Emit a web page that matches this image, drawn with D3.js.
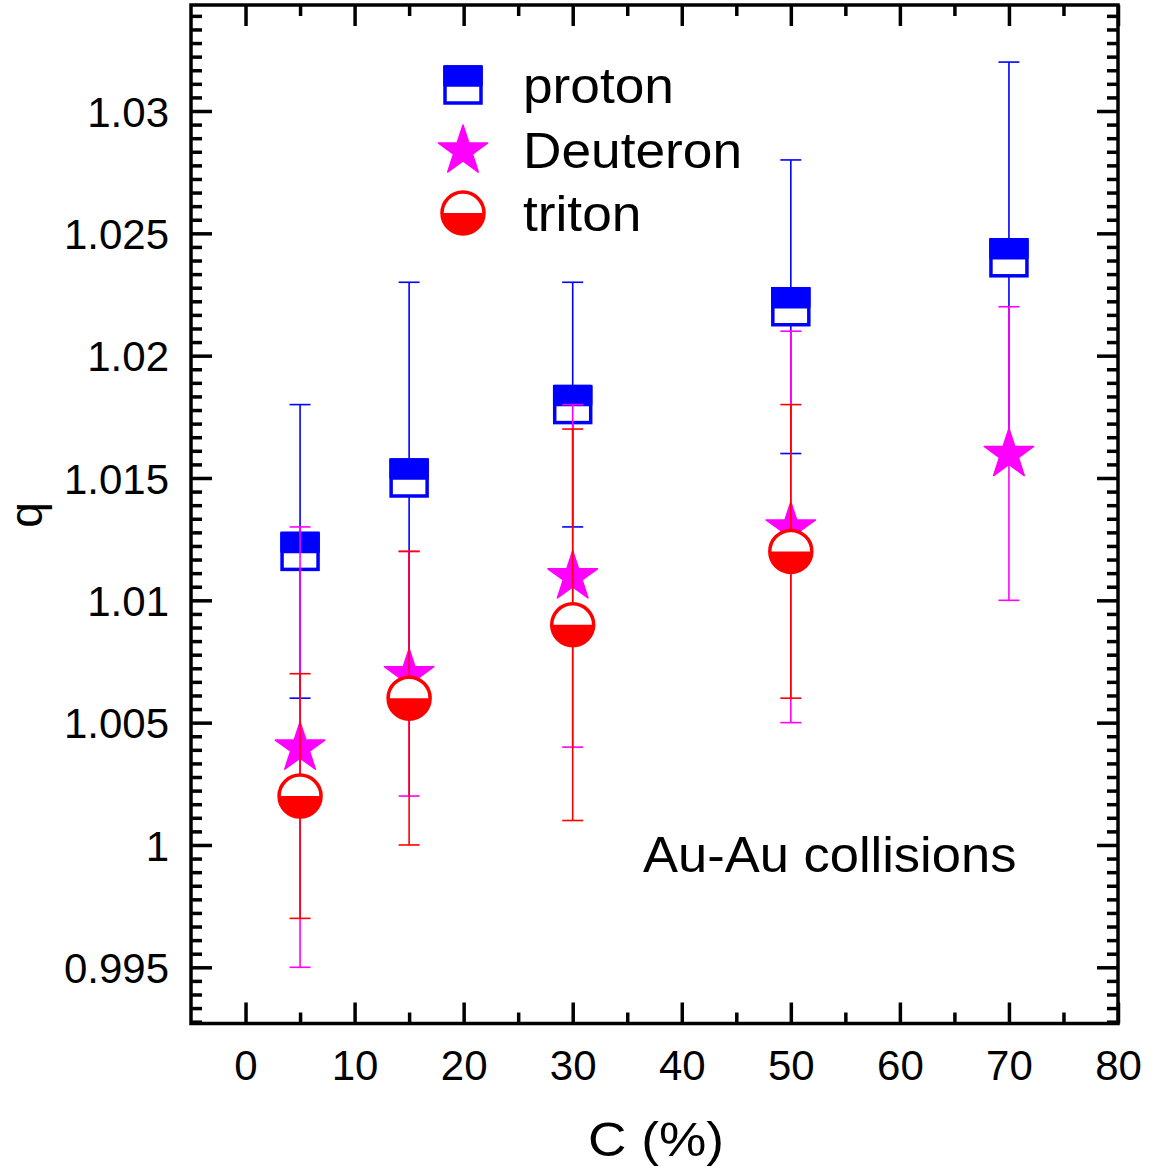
<!DOCTYPE html>
<html>
<head>
<meta charset="utf-8">
<script src="https://cdn.jsdelivr.net/npm/d3@7"></script>
<style>
  html, body { margin: 0; padding: 0; background: #fff; }
  svg { display: block; }
  text { font-family: "Liberation Sans", Arial, sans-serif; fill: #000; }
</style>
</head>
<body>
<svg id="chart" width="1155" height="1171"></svg>
<script>
// ---- data ----
const centrality = [5, 15, 30, 50, 70];
const protonQ   = [1.012, 1.015, 1.018, 1.022, 1.024];
const protonErr = [0.006, 0.008, 0.005, 0.006, 0.008];
const deutC     = [5, 15, 30, 50, 70];
const deutQ     = [1.004, 1.007, 1.011, 1.013, 1.016];
const deutErr   = [0.009, 0.005, 0.007, 0.008, 0.006];
const tritC     = [5, 15, 30, 50];
const tritQ     = [1.002, 1.006, 1.009, 1.012];
const tritErr   = [0.005, 0.006, 0.008, 0.006];
const xTicks = [0, 10, 20, 30, 40, 50, 60, 70, 80];
const yTicks = [0.995, 1.0, 1.005, 1.01, 1.015, 1.02, 1.025, 1.03];
const yTickLabels = ["0.995", "1", "1.005", "1.01", "1.015", "1.02", "1.025", "1.03"];
const seriesNames = ["proton", "Deuteron", "triton"];

const svg = d3.select("#chart");
const L = 191, R = 1118, T = 5, B = 1023.5;
const x = d3.scaleLinear().domain([-5, 80]).range([L, R]);
const y = d3.scaleLinear().domain([0.992703, 1.034333]).range([B, T]);

const BLUE = "#0000ff", MAG = "#ff00ff", RED = "#ff0000";

// minor tick values
const xMinor = d3.range(5, 80, 10);
const yStep = 0.005 / 9;
const yMinor = d3.range(Math.ceil(0.992703 / yStep + 1e-6), Math.floor(1.034333 / yStep - 1e-6) + 1)
  .map(i => i * yStep)
  .filter(v => !yTicks.some(t => Math.abs(t - v) < 1e-7));

const axG = svg.append("g");
function styleAxis(g) {
  g.select(".domain").remove();
  g.selectAll(".tick line").attr("stroke", "#000").attr("stroke-width", 3.5);
}
// bottom
axG.append("g").attr("transform", `translate(0,${B})`)
  .call(d3.axisBottom(x).tickValues(xTicks).tickSize(-21).tickPadding(0).tickFormat(d3.format("d")))
  .call(styleAxis)
  .call(g => g.selectAll(".tick text").attr("font-size", 42).attr("dy", null).attr("y", 56));
axG.append("g").attr("transform", `translate(0,${B})`)
  .call(d3.axisBottom(x).tickValues(xMinor).tickSize(-11).tickFormat(""))
  .call(styleAxis);
// top
axG.append("g").attr("transform", `translate(0,${T})`)
  .call(d3.axisTop(x).tickValues(xTicks).tickSize(-21).tickFormat(""))
  .call(styleAxis);
axG.append("g").attr("transform", `translate(0,${T})`)
  .call(d3.axisTop(x).tickValues(xMinor).tickSize(-11).tickFormat(""))
  .call(styleAxis);
// left
axG.append("g").attr("transform", `translate(${L},0)`)
  .call(d3.axisLeft(y).tickValues(yTicks).tickSize(-21).tickPadding(0)
    .tickFormat((d, i) => yTickLabels[i]))
  .call(styleAxis)
  .call(g => g.selectAll(".tick text").attr("font-size", 42).attr("x", -22).attr("dy", "0.36em"));
axG.append("g").attr("transform", `translate(${L},0)`)
  .call(d3.axisLeft(y).tickValues(yMinor).tickSize(-11).tickFormat(""))
  .call(styleAxis);
// right
axG.append("g").attr("transform", `translate(${R},0)`)
  .call(d3.axisRight(y).tickValues(yTicks).tickSize(-21).tickFormat(""))
  .call(styleAxis);
axG.append("g").attr("transform", `translate(${R},0)`)
  .call(d3.axisRight(y).tickValues(yMinor).tickSize(-11).tickFormat(""))
  .call(styleAxis);
axG.selectAll(".tick text").attr("font-family", '"Liberation Sans", Arial, sans-serif').attr("fill", "#000");

// frame
svg.append("rect").attr("x", L).attr("y", T).attr("width", R - L).attr("height", B - T)
  .attr("fill", "none").attr("stroke", "#000").attr("stroke-width", 3.5);

// axis titles
svg.append("text").attr("transform", `translate(42,515) rotate(-90)`)
  .attr("text-anchor", "middle").attr("font-size", 46).text("q");
svg.append("text").attr("transform", `translate(656,1156) scale(1.11,1)`)
  .attr("text-anchor", "middle").attr("font-size", 48).text("C (%)");

// annotation
svg.append("text").attr("transform", `translate(643,872) scale(1.05,1)`)
  .attr("font-size", 50).text("Au-Au collisions");

// ---- markers ----
const SQ = 36, CR = 21, STAR = 760;
function drawSquare(g, cx, cy, color) {
  g.append("rect").attr("x", cx - SQ / 2).attr("y", cy - SQ / 2).attr("width", SQ).attr("height", SQ)
    .attr("fill", "#fff").attr("stroke", color).attr("stroke-width", 3.5);
  g.append("rect").attr("x", cx - SQ / 2).attr("y", cy - SQ / 2).attr("width", SQ).attr("height", SQ / 2)
    .attr("fill", color).attr("stroke", color).attr("stroke-width", 3.5).attr("stroke-linejoin", "round");
}
function drawCircle(g, cx, cy, color) {
  g.append("circle").attr("cx", cx).attr("cy", cy).attr("r", CR).attr("fill", "#fff");
  g.append("path").attr("d", `M${cx - CR},${cy} A${CR},${CR} 0 0 0 ${cx + CR},${cy} Z`).attr("fill", color);
  g.append("circle").attr("cx", cx).attr("cy", cy).attr("r", CR).attr("fill", "none")
    .attr("stroke", color).attr("stroke-width", 3.5);
}
function drawStar(g, cx, cy, color) {
  g.append("path").attr("d", d3.symbol(d3.symbolStar, STAR)())
    .attr("transform", `translate(${cx},${cy + 1})`).attr("fill", color)
    .attr("stroke", color).attr("stroke-width", 1.5).attr("stroke-linejoin", "round");
}

function drawErr(g, xs, qs, es, color) {
  xs.forEach((c, i) => {
    const cx = x(c), y1 = y(qs[i] + es[i]), y2 = y(qs[i] - es[i]);
    g.append("line").attr("x1", cx).attr("x2", cx).attr("y1", y1).attr("y2", y2)
      .attr("stroke", color).attr("stroke-width", 1.6);
    [y1, y2].forEach(yy => g.append("line").attr("x1", cx - 10.5).attr("x2", cx + 10.5)
      .attr("y1", yy).attr("y2", yy).attr("stroke", color).attr("stroke-width", 1.6));
  });
}

const pG = svg.append("g");
drawErr(pG, centrality, protonQ, protonErr, BLUE);
centrality.forEach((c, i) => drawSquare(pG, x(c), y(protonQ[i]), BLUE));
const dG = svg.append("g");
drawErr(dG, deutC, deutQ, deutErr, MAG);
deutC.forEach((c, i) => drawStar(dG, x(c), y(deutQ[i]), MAG));
const tG = svg.append("g");
drawErr(tG, tritC, tritQ, tritErr, RED);
tritC.forEach((c, i) => drawCircle(tG, x(c), y(tritQ[i]), RED));

// ---- legend ----
const lg = svg.append("g");
const legY = [85, 150, 213];
drawSquare(lg, 463, legY[0], BLUE);
drawStar(lg, 463, legY[1], MAG);
drawCircle(lg, 463, legY[2], RED);
seriesNames.forEach((n, i) => lg.append("text")
  .attr("transform", `translate(523,${legY[i] + 18}) scale(1.065,1)`)
  .attr("font-size", 50).text(n));
</script>
</body>
</html>
